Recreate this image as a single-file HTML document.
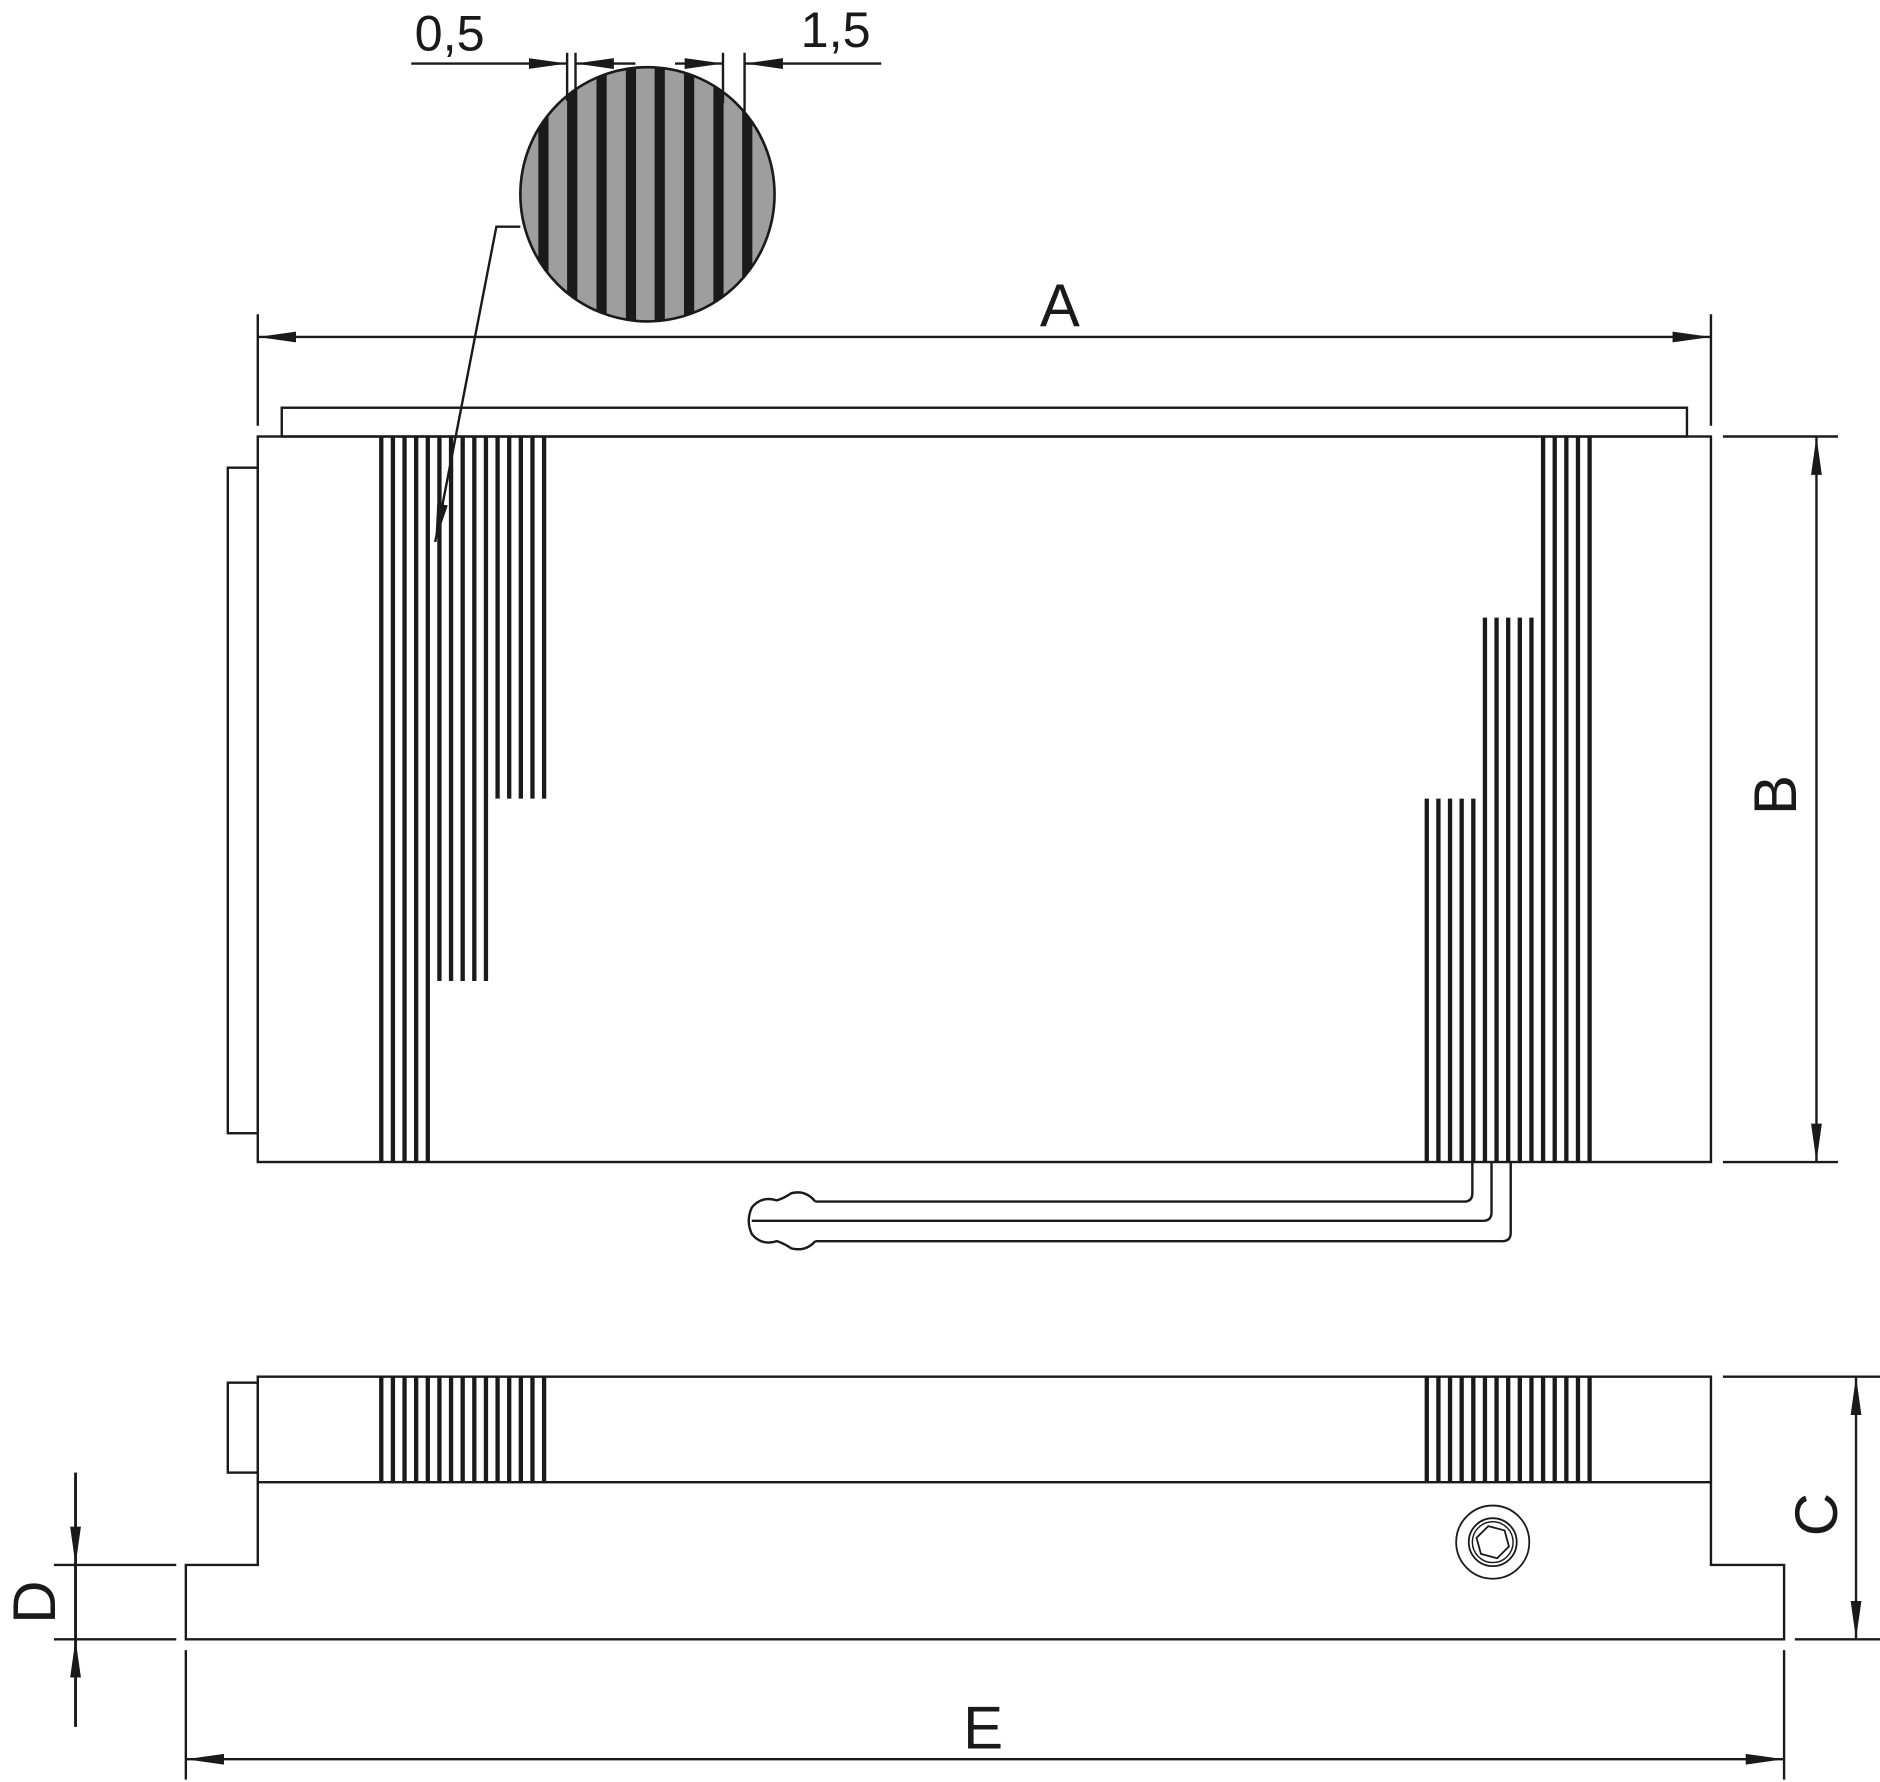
<!DOCTYPE html>
<html><head><meta charset="utf-8"><style>html,body{margin:0;padding:0;background:#fff}svg{display:block}</style></head>
<body>
<svg xmlns="http://www.w3.org/2000/svg" width="1880" height="1782" viewBox="0 0 1568 1486" preserveAspectRatio="none">
<defs>
<marker id="ar" markerUnits="userSpaceOnUse" markerWidth="34" markerHeight="14" refX="32" refY="7" orient="auto"><path d="M0,2.5 L32,7 L0,11.5 Z" fill="#1a1a1a"/></marker>
<marker id="as" markerUnits="userSpaceOnUse" markerWidth="34" markerHeight="14" refX="2" refY="7" orient="auto"><path d="M34,2.5 L2,7 L34,11.5 Z" fill="#1a1a1a"/></marker>
<clipPath id="cc"><circle cx="540" cy="162" r="106"/></clipPath>
</defs>
<g fill="none" stroke="#1a1a1a" stroke-width="2">
<rect x="235" y="340" width="1172" height="24"/>
<rect x="215" y="364" width="1212" height="605"/>
<rect x="190" y="390" width="25" height="555"/>
<path d="M1228,969 V995 q0,7 -7,7 H680"/>
<path d="M1244,969 V1011 q0,7 -7,7 H627"/>
<path d="M1260,969 V1028 q0,7 -7,7 H680"/>
<path d="M680,1002 Q672,992 660,995 Q654,999 648,1001 Q635,997 627,1007 Q622,1018 627,1029 Q635,1039 648,1035 Q654,1037 660,1041 Q672,1044 680,1035"/>
<rect x="215" y="1148" width="1212" height="88"/>
<rect x="190" y="1153" width="25" height="75"/>
<path d="M215,1236 V1305 H155 V1367 H1488 V1305 H1427 V1236"/>
<circle cx="1245" cy="1286" r="30.5" stroke-width="1.5"/>
<circle cx="1245" cy="1286" r="20" stroke-width="1.5"/>
<circle cx="1245" cy="1286" r="17" stroke-width="1.2"/>
<polygon points="1259,1286 1252,1298 1238,1298 1231,1286 1238,1274 1252,1274" transform="rotate(15 1245 1286)" stroke-width="1.5"/>
</g>
<g stroke="#1a1a1a" stroke-width="3.6">
<path d="M318,364V969M327.7,364V969M337.4,364V969M347.1,364V969M356.8,364V969"/>
<path d="M366.5,364V818M376.2,364V818M385.9,364V818M395.6,364V818M405.3,364V818"/>
<path d="M415,364V666M424.7,364V666M434.4,364V666M444.1,364V666M453.8,364V666"/>
<path d="M1287,364V969M1296.7,364V969M1306.4,364V969M1316.1,364V969M1325.8,364V969"/>
<path d="M1238.5,515V969M1248.2,515V969M1257.9,515V969M1267.6,515V969M1277.3,515V969"/>
<path d="M1190,666V969M1199.7,666V969M1209.4,666V969M1219.1,666V969M1228.8,666V969"/>
<path d="M318,1148V1236M327.7,1148V1236M337.4,1148V1236M347.1,1148V1236M356.8,1148V1236M366.5,1148V1236M376.2,1148V1236M385.9,1148V1236M395.6,1148V1236M405.3,1148V1236M415,1148V1236M424.7,1148V1236M434.4,1148V1236M444.1,1148V1236M453.8,1148V1236"/>
<path d="M1190,1148V1236M1199.7,1148V1236M1209.4,1148V1236M1219.1,1148V1236M1228.8,1148V1236M1238.5,1148V1236M1248.2,1148V1236M1257.9,1148V1236M1267.6,1148V1236M1277.3,1148V1236M1287,1148V1236M1296.7,1148V1236M1306.4,1148V1236M1316.1,1148V1236M1325.8,1148V1236"/>
</g>
<circle cx="540" cy="162" r="106" fill="#9e9e9e"/>
<g clip-path="url(#cc)" fill="#1a1a1a">
<rect x="449" y="50" width="8.5" height="230"/><rect x="473" y="50" width="8.5" height="230"/><rect x="497.5" y="50" width="8.5" height="230"/><rect x="522" y="50" width="8.5" height="230"/><rect x="546" y="50" width="8.5" height="230"/><rect x="570.5" y="50" width="8.5" height="230"/><rect x="595" y="50" width="8.5" height="230"/><rect x="619" y="50" width="8.5" height="230"/>
</g>
<circle cx="540" cy="162" r="106" fill="none" stroke="#1a1a1a" stroke-width="2.2"/>
<g fill="none" stroke="#1a1a1a" stroke-width="2">
<path d="M434,189 H414 L363,452" marker-end="url(#ar)"/>
<line x1="343" y1="53" x2="473" y2="53" marker-end="url(#ar)"/>
<line x1="530" y1="53" x2="480" y2="53" marker-end="url(#ar)"/>
<line x1="563" y1="53" x2="603" y2="53" marker-end="url(#ar)"/>
<line x1="735" y1="53" x2="621" y2="53" marker-end="url(#ar)"/>
<line x1="473" y1="44" x2="473" y2="84"/>
<line x1="480" y1="44" x2="480" y2="84"/>
<line x1="603" y1="44" x2="603" y2="86"/>
<line x1="621" y1="44" x2="621" y2="104"/>
<line x1="215" y1="262" x2="215" y2="355"/>
<line x1="1427" y1="262" x2="1427" y2="355"/>
<line x1="215" y1="281" x2="1427" y2="281" marker-start="url(#as)" marker-end="url(#ar)"/>
<line x1="1437" y1="364" x2="1533" y2="364"/>
<line x1="1437" y1="969" x2="1533" y2="969"/>
<line x1="1515" y1="364" x2="1515" y2="969" marker-start="url(#as)" marker-end="url(#ar)"/>
<line x1="1437" y1="1148" x2="1568" y2="1148"/>
<line x1="1497" y1="1367" x2="1568" y2="1367"/>
<line x1="1548" y1="1148" x2="1548" y2="1367" marker-start="url(#as)" marker-end="url(#ar)"/>
<line x1="45" y1="1305" x2="147" y2="1305"/>
<line x1="45" y1="1367" x2="147" y2="1367"/>
<line x1="63" y1="1228" x2="63" y2="1305" stroke-width="2.4" marker-end="url(#ar)"/>
<line x1="63" y1="1440" x2="63" y2="1367" stroke-width="2.4" marker-end="url(#ar)"/>
<line x1="63" y1="1305" x2="63" y2="1367" stroke-width="2.4"/>
<line x1="155" y1="1376" x2="155" y2="1484"/>
<line x1="1488" y1="1376" x2="1488" y2="1484"/>
<line x1="155" y1="1467" x2="1488" y2="1467" marker-start="url(#as)" marker-end="url(#ar)"/>
</g>
<g font-family="Liberation Sans, Arial, sans-serif" fill="#1a1a1a" text-anchor="middle">
<text x="375" y="42" font-size="42">0,5</text>
<text x="697" y="39" font-size="42">1,5</text>
<text x="884" y="272" font-size="50">A</text>
<text x="820" y="1458" font-size="50">E</text>
<text transform="translate(1498,663) rotate(-90)" font-size="50">B</text>
<text transform="translate(1532,1263) rotate(-90)" font-size="50">C</text>
<text transform="translate(46,1336) rotate(-90)" font-size="50">D</text>
</g>
</svg>
</body></html>
